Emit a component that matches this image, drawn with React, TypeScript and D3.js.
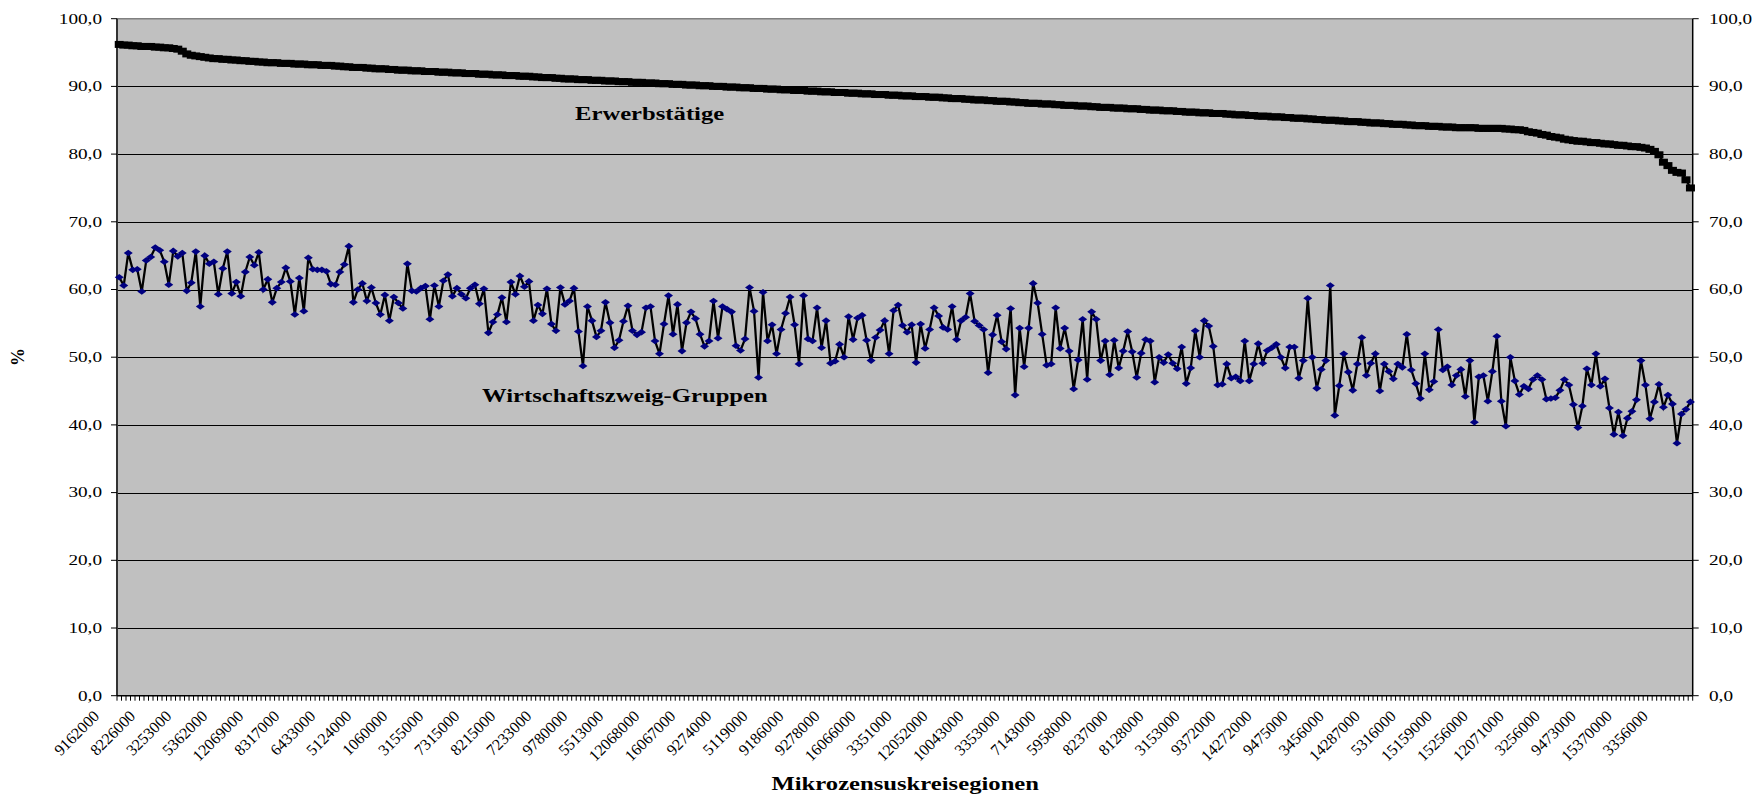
import React, { useRef, useEffect } from 'react';
import * as d3 from 'd3';

// x-axis tick labels (one label every 8 regions)
const tickLabels = [
  '9162000', '8226000', '3253000', '5362000', '12069000', '8317000', '6433000', '5124000',
  '1060000', '3155000', '7315000', '8215000', '7233000', '9780000', '5513000', '12068000',
  '16067000', '9274000', '5119000', '9186000', '9278000', '16066000', '3351000', '12052000',
  '10043000', '3353000', '7143000', '5958000', '8237000', '8128000', '3153000', '9372000',
  '14272000', '9475000', '3456000', '14287000', '5316000', '15159000', '15256000', '12071000',
  '3256000', '9473000', '15370000', '3356000',
];
const labelEvery = 8;

const yTicks = [0, 10, 20, 30, 40, 50, 60, 70, 80, 90, 100];

// Series 1: Erwerbstätige (sorted, %)
const erwerbstaetige = [
  96.2, 96.1, 96.1, 96.0, 96.0, 95.9, 95.9, 95.9, 95.8, 95.8,
  95.7, 95.7, 95.6, 95.5, 95.2, 94.8, 94.6, 94.5, 94.4, 94.3,
  94.2, 94.1, 94.1, 94.0, 94.0, 93.9, 93.9, 93.8, 93.8, 93.7,
  93.7, 93.6, 93.6, 93.5, 93.5, 93.5, 93.4, 93.4, 93.4, 93.3,
  93.3, 93.3, 93.2, 93.2, 93.2, 93.1, 93.1, 93.1, 93.0, 93.0,
  92.9, 92.9, 92.8, 92.8, 92.8, 92.7, 92.7, 92.6, 92.6, 92.6,
  92.5, 92.5, 92.4, 92.4, 92.4, 92.3, 92.3, 92.3, 92.2, 92.2,
  92.2, 92.1, 92.1, 92.1, 92.0, 92.0, 92.0, 91.9, 91.9, 91.9,
  91.8, 91.8, 91.8, 91.7, 91.7, 91.7, 91.6, 91.6, 91.6, 91.5,
  91.5, 91.5, 91.4, 91.4, 91.3, 91.3, 91.3, 91.2, 91.2, 91.1,
  91.1, 91.1, 91.0, 91.0, 91.0, 90.9, 90.9, 90.9, 90.8, 90.8,
  90.8, 90.7, 90.7, 90.7, 90.6, 90.6, 90.6, 90.5, 90.5, 90.5,
  90.4, 90.4, 90.4, 90.3, 90.3, 90.3, 90.2, 90.2, 90.2, 90.1,
  90.1, 90.1, 90.0, 90.0, 90.0, 89.9, 89.9, 89.9, 89.8, 89.8,
  89.8, 89.7, 89.7, 89.7, 89.6, 89.6, 89.6, 89.5, 89.5, 89.5,
  89.4, 89.4, 89.4, 89.3, 89.3, 89.3, 89.2, 89.2, 89.2, 89.1,
  89.1, 89.1, 89.0, 89.0, 89.0, 88.9, 88.9, 88.9, 88.8, 88.8,
  88.8, 88.7, 88.7, 88.7, 88.6, 88.6, 88.6, 88.5, 88.5, 88.5,
  88.4, 88.4, 88.4, 88.3, 88.3, 88.2, 88.2, 88.2, 88.1, 88.1,
  88.0, 88.0, 88.0, 87.9, 87.9, 87.8, 87.8, 87.8, 87.7, 87.7,
  87.6, 87.6, 87.5, 87.5, 87.5, 87.4, 87.4, 87.4, 87.3, 87.3,
  87.2, 87.2, 87.2, 87.1, 87.1, 87.1, 87.0, 87.0, 86.9, 86.9,
  86.9, 86.8, 86.8, 86.8, 86.7, 86.7, 86.7, 86.6, 86.6, 86.5,
  86.5, 86.5, 86.4, 86.4, 86.4, 86.3, 86.3, 86.2, 86.2, 86.2,
  86.1, 86.1, 86.1, 86.0, 86.0, 86.0, 85.9, 85.9, 85.8, 85.8,
  85.8, 85.7, 85.7, 85.6, 85.6, 85.6, 85.5, 85.5, 85.5, 85.4,
  85.4, 85.3, 85.3, 85.3, 85.2, 85.2, 85.1, 85.1, 85.0, 85.0,
  85.0, 84.9, 84.9, 84.8, 84.8, 84.8, 84.7, 84.7, 84.6, 84.6,
  84.6, 84.5, 84.5, 84.4, 84.4, 84.4, 84.3, 84.3, 84.2, 84.2,
  84.2, 84.1, 84.1, 84.1, 84.0, 84.0, 84.0, 83.9, 83.9, 83.9,
  83.9, 83.9, 83.8, 83.8, 83.8, 83.8, 83.8, 83.8, 83.7, 83.7,
  83.6, 83.6, 83.5, 83.3, 83.2, 83.1, 82.9, 82.8, 82.6, 82.5,
  82.4, 82.2, 82.1, 82.0, 81.9, 81.9, 81.8, 81.7, 81.7, 81.6,
  81.5, 81.5, 81.4, 81.3, 81.3, 81.2, 81.1, 81.1, 81.0, 80.9,
  80.7, 80.4, 79.9, 78.8, 78.3, 77.6, 77.3, 77.2, 76.2, 75.0,
];

// Series 2: Wirtschaftszweig-Gruppen (%)
const wirtschaftszweig = [
  61.8, 60.6, 65.4, 62.9, 63.0, 59.7, 64.3, 64.8, 66.2, 65.8,
  64.1, 60.7, 65.7, 64.9, 65.4, 59.8, 61.0, 65.6, 57.5, 65.0,
  63.8, 64.1, 59.3, 63.1, 65.6, 59.4, 61.1, 59.0, 62.6, 64.8,
  63.6, 65.5, 60.0, 61.5, 58.1, 60.2, 61.1, 63.2, 61.2, 56.3,
  61.7, 56.8, 64.7, 63.0, 62.9, 62.9, 62.7, 60.8, 60.7, 62.6,
  63.7, 66.4, 58.1, 60.0, 60.9, 58.3, 60.3, 58.0, 56.3, 59.2,
  55.4, 58.9, 58.0, 57.2, 63.8, 59.8, 59.7, 60.2, 60.5, 55.6,
  60.6, 57.5, 61.3, 62.2, 59.0, 60.2, 59.3, 58.7, 60.2, 60.7,
  57.9, 60.1, 53.6, 55.2, 56.3, 58.8, 55.2, 61.1, 59.3, 62.0,
  60.4, 61.2, 55.4, 57.7, 56.4, 60.1, 54.9, 53.9, 60.3, 57.8,
  58.3, 60.2, 53.8, 48.7, 57.5, 55.4, 53.0, 53.9, 58.1, 55.1,
  51.4, 52.5, 55.3, 57.6, 53.9, 53.3, 53.7, 57.3, 57.5, 52.4,
  50.5, 54.9, 59.1, 53.4, 57.8, 50.9, 55.1, 56.7, 55.7, 53.4,
  51.6, 52.4, 58.3, 52.8, 57.5, 57.1, 56.7, 51.7, 51.0, 52.7,
  60.3, 56.8, 47.0, 59.6, 52.4, 54.8, 50.5, 54.1, 56.5, 58.9,
  54.8, 49.0, 59.1, 52.7, 52.4, 57.3, 51.4, 55.4, 49.1, 49.4,
  51.9, 50.0, 56.0, 52.6, 55.8, 56.2, 52.5, 49.5, 52.9, 54.0,
  55.4, 50.5, 56.9, 57.7, 54.7, 53.7, 54.8, 49.2, 54.9, 51.3,
  54.1, 57.3, 56.1, 54.4, 54.1, 57.5, 52.6, 55.4, 55.9, 59.4,
  55.3, 54.7, 54.1, 47.7, 53.3, 56.2, 52.3, 51.2, 57.2, 44.4,
  54.3, 48.6, 54.3, 60.9, 58.0, 53.4, 48.8, 49.0, 57.3, 51.3,
  54.3, 50.9, 45.3, 49.6, 55.6, 46.7, 56.7, 55.6, 49.5, 52.4,
  47.4, 52.5, 48.4, 50.9, 53.8, 50.8, 47.0, 50.6, 52.6, 52.4,
  46.3, 50.0, 49.2, 50.4, 49.1, 48.3, 51.5, 46.1, 48.4, 53.9,
  50.0, 55.4, 54.6, 51.6, 45.9, 46.0, 49.0, 46.9, 47.1, 46.5,
  52.4, 46.5, 49.0, 52.0, 49.1, 51.0, 51.4, 51.9, 50.0, 48.4,
  51.5, 51.5, 46.9, 49.5, 58.7, 50.0, 45.4, 48.2, 49.5, 60.6,
  41.4, 45.8, 50.5, 47.8, 45.1, 49.0, 52.9, 47.3, 49.1, 50.5,
  45.0, 49.0, 47.9, 46.8, 49.0, 48.5, 53.4, 48.1, 46.1, 43.9,
  50.5, 45.2, 46.4, 54.1, 48.1, 48.6, 45.9, 47.3, 48.2, 44.2,
  49.5, 40.4, 47.1, 47.3, 43.5, 47.9, 53.1, 43.5, 39.8, 50.0,
  46.5, 44.5, 45.7, 45.3, 46.7, 47.3, 46.7, 43.8, 43.9, 44.0,
  45.1, 46.7, 45.9, 43.0, 39.6, 42.8, 48.3, 45.9, 50.5, 45.7,
  46.8, 42.5, 38.6, 41.9, 38.4, 41.0, 42.0, 43.7, 49.5, 45.9,
  40.9, 43.4, 46.0, 42.6, 44.4, 43.1, 37.3, 41.6, 42.3, 43.4,
];

const W = 1759;
const H = 795;
const PL = 117;
const PR = 1692.7;
const PT = 18.7;
const PB = 695.7;
const SX = 1.37; // horizontal text stretch of the original

export default function App() {
  const ref = useRef<SVGSVGElement>(null);

  useEffect(() => {
    const svg = d3.select(ref.current);
    svg.selectAll('*').remove();
    const font = '"Liberation Serif", "Times New Roman", serif';

    const idx = d3.range(erwerbstaetige.length);
    const x = d3.scaleBand<number>().domain(idx).range([PL, PR]).padding(0);
    const y = d3.scaleLinear().domain([0, 100]).range([PB, PT]);
    const cx = (i: number) => (x(i) as number) + x.bandwidth() / 2;

    const stext = (
      px: number, py: number, txt: string,
      size: number, bold: boolean, anchor: string, sx = SX, rot = 0,
    ) => {
      svg.append('text')
        .attr('transform', `translate(${px},${py}) rotate(${rot}) scale(${sx},1)`)
        .attr('text-anchor', anchor)
        .attr('font-family', font)
        .attr('font-size', size)
        .attr('font-weight', bold ? 'bold' : 'normal')
        .attr('fill', '#000')
        .text(txt);
    };

    // plot background
    svg.append('rect')
      .attr('x', PL).attr('y', PT)
      .attr('width', PR - PL).attr('height', PB - PT)
      .attr('fill', '#C0C0C0');
    // top border
    svg.append('line').attr('x1', PL).attr('x2', PR).attr('y1', PT).attr('y2', PT)
      .attr('stroke', '#808080').attr('stroke-width', 1.5);

    // gridlines
    svg.append('g').selectAll('line')
      .data(yTicks.filter((t) => t > 0 && t < 100))
      .join('line')
      .attr('x1', PL).attr('x2', PR)
      .attr('y1', (d) => Math.round(y(d)) + 0.5).attr('y2', (d) => Math.round(y(d)) + 0.5)
      .attr('stroke', '#000').attr('stroke-width', 1);

    // left axis
    svg.append('line').attr('x1', PL).attr('x2', PL).attr('y1', PT).attr('y2', PB)
      .attr('stroke', '#333').attr('stroke-width', 2);
    // right axis
    svg.append('line').attr('x1', PR).attr('x2', PR).attr('y1', PT).attr('y2', PB)
      .attr('stroke', '#000').attr('stroke-width', 1.5);
    // bottom axis
    svg.append('line').attr('x1', PL).attr('x2', PR).attr('y1', PB).attr('y2', PB)
      .attr('stroke', '#000').attr('stroke-width', 1.5);

    // y ticks + labels (both sides)
    yTicks.forEach((t) => {
      const yy = y(t);
      svg.append('line').attr('x1', PL - 6).attr('x2', PL).attr('y1', yy).attr('y2', yy)
        .attr('stroke', '#000').attr('stroke-width', 1);
      svg.append('line').attr('x1', PR).attr('x2', PR + 6).attr('y1', yy).attr('y2', yy)
        .attr('stroke', '#000').attr('stroke-width', 1);
      const lab = t.toFixed(1).replace('.', ',');
      stext(102, yy + 4.8, lab, 14, false, 'end');
      stext(1709, yy + 4.8, lab, 14, false, 'start');
    });

    // x ticks (category boundaries)
    const bounds = d3.range(erwerbstaetige.length + 1).map((i) => PL + i * x.bandwidth());
    svg.append('g').selectAll('line')
      .data(bounds)
      .join('line')
      .attr('x1', (d) => d).attr('x2', (d) => d)
      .attr('y1', PB).attr('y2', PB + 5)
      .attr('stroke', '#000').attr('stroke-width', 1);

    // x labels
    tickLabels.forEach((lab, k) => {
      const i = k * labelEvery;
      svg.append('text')
        .attr('transform', `translate(${cx(i) - 19},${717}) rotate(-45)`)
        .attr('text-anchor', 'end')
        .attr('font-family', font)
        .attr('font-size', 16)
        .attr('fill', '#000')
        .text(lab);
    });

    // series 2 line + diamonds
    const line2 = d3.line<number>().x((_, i) => cx(i)).y((d) => y(d));
    svg.append('path').attr('d', line2(wirtschaftszweig) as string)
      .attr('fill', 'none').attr('stroke', '#000').attr('stroke-width', 2.25)
      .attr('stroke-linejoin', 'miter');
    svg.append('g').selectAll('path')
      .data(wirtschaftszweig)
      .join('path')
      .attr('d', (d, i) => {
        const px = cx(i), py = y(d);
        return `M${px - 4.5},${py} L${px},${py - 3.3} L${px + 4.5},${py} L${px},${py + 3.3} Z`;
      })
      .attr('fill', '#000080');

    // series 1 line + squares
    svg.append('path').attr('d', line2(erwerbstaetige) as string)
      .attr('fill', 'none').attr('stroke', '#000').attr('stroke-width', 2.25);
    svg.append('g').selectAll('rect')
      .data(erwerbstaetige)
      .join('rect')
      .attr('x', (_, i) => cx(i) - 4.5)
      .attr('y', (d) => y(d) - 3.5)
      .attr('width', 9).attr('height', 7)
      .attr('fill', '#000');

    // series labels
    stext(575, 120, 'Erwerbstätige', 18, true, 'start');
    stext(482, 401.5, 'Wirtschaftszweig-Gruppen', 18, true, 'start');

    // axis titles
    stext(771.5, 790, 'Mikrozensuskreisegionen', 18, true, 'start');
    svg.append('text')
      .attr('transform', `translate(24,357) rotate(-90)`)
      .attr('text-anchor', 'middle')
      .attr('font-family', font)
      .attr('font-size', 18)
      .attr('font-weight', 'bold')
      .text('%');
  }, []);

  return (
    <svg
      ref={ref}
      width={W}
      height={H}
      style={{ position: 'absolute', left: 0, top: 0, background: '#fff' }}
    />
  );
}
